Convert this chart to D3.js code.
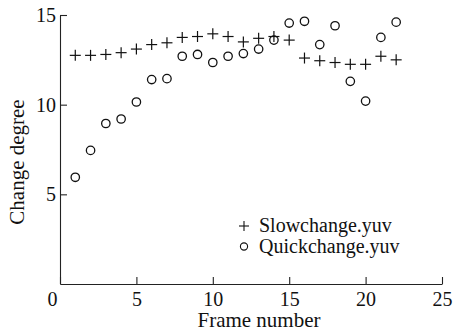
<!DOCTYPE html>
<html>
<head>
<meta charset="utf-8">
<script src="https://cdn.jsdelivr.net/npm/d3@7"></script>
<style>
  html, body { margin: 0; padding: 0; background: #fff; }
  svg { display: block; }
  .axis path, .axis line { stroke: #222; stroke-width: 1.1; }
</style>
</head>
<body>
<svg id="chart" width="454" height="334" font-family="Liberation Serif">
  <text x="259" y="327" font-size="21" fill="#111" text-anchor="middle" font-family="Liberation Serif">Frame number</text>
  <text transform="translate(24,162) rotate(-90)" font-size="21" fill="#111" text-anchor="middle" font-family="Liberation Serif">Change degree</text>
</svg>
<script>
const frames = [1, 2, 3, 4, 5, 6, 7, 8, 9, 10, 11, 12, 13, 14, 15, 16, 17, 18, 19, 20, 21, 22];
const slowValues = [12.75, 12.75, 12.8, 12.9, 13.1, 13.35, 13.45, 13.75, 13.8, 13.95, 13.8, 13.5,
  13.7, 13.8, 13.6, 12.6, 12.45, 12.35, 12.25, 12.25, 12.7, 12.5];
const quickValues = [5.95, 7.45, 8.95, 9.2, 10.15, 11.4, 11.45, 12.7, 12.8, 12.35, 12.7, 12.85,
  13.1, 13.6, 14.55, 14.65, 13.35, 14.4, 11.3, 10.2, 13.75, 14.6];
const xTicks = [0, 5, 10, 15, 20, 25];
const yTicks = [5, 10, 15];
const seriesNames = ['Slowchange.yuv', 'Quickchange.yuv'];

const serif = 'Liberation Serif';
const ink = '#111';
const svg = d3.select('#chart');

const x = d3.scaleLinear().domain([0, 25]).range([60, 442]);
const y = d3.scaleLinear().domain([0, 15]).range([284, 15]);

// axes, ticks point inward
const xAxis = svg
  .append('g')
  .attr('class', 'axis')
  .attr('transform', `translate(0,${y(0)})`)
  .call(d3.axisBottom(x).tickValues(xTicks).tickSizeInner(-7).tickSizeOuter(0).tickPadding(8));

// the 0 at the corner sits a bit left of its tick
xAxis.selectAll('.tick text').attr('dx', (d) => (d === 0 ? -8 : 0));

const yAxis = svg
  .append('g')
  .attr('class', 'axis')
  .attr('transform', `translate(${x(0)},0)`)
  .call(d3.axisLeft(y).tickValues(yTicks).tickSizeInner(-7).tickSizeOuter(0).tickPadding(4));

[xAxis, yAxis].forEach((g) => {
  g.attr('font-family', serif).attr('font-size', 20);
  g.selectAll('.tick text').attr('font-family', serif).attr('font-size', 20).attr('fill', ink);
});

const slow = frames.map((f, i) => ({ f, v: slowValues[i] }));
const quick = frames.map((f, i) => ({ f, v: quickValues[i] }));

function plus(sel, size) {
  sel.append('line').attr('x1', -size).attr('x2', size).attr('y1', 0).attr('y2', 0);
  sel.append('line').attr('x1', 0).attr('x2', 0).attr('y1', -size).attr('y2', size);
}

svg
  .append('g')
  .attr('stroke', ink)
  .attr('stroke-width', 1.2)
  .selectAll('g')
  .data(slow)
  .enter()
  .append('g')
  .attr('transform', (d) => `translate(${x(d.f)},${y(d.v)})`)
  .call(plus, 5.5);

svg
  .append('g')
  .attr('fill', 'none')
  .attr('stroke', ink)
  .attr('stroke-width', 1.3)
  .selectAll('circle')
  .data(quick)
  .enter()
  .append('circle')
  .attr('cx', (d) => x(d.f))
  .attr('cy', (d) => y(d.v))
  .attr('r', 4.2);

// legend
const items = svg
  .append('g')
  .selectAll('g')
  .data(seriesNames)
  .enter()
  .append('g')
  .attr('transform', (d, i) => `translate(244,${226 + i * 20.5})`);

items
  .filter((d, i) => i === 0)
  .append('g')
  .attr('stroke', ink)
  .attr('stroke-width', 1.1)
  .call(plus, 5);

items
  .filter((d, i) => i === 1)
  .append('circle')
  .attr('r', 3.6)
  .attr('fill', 'none')
  .attr('stroke', ink)
  .attr('stroke-width', 1.1);

items
  .append('text')
  .attr('font-family', serif)
  .attr('font-size', 20)
  .attr('fill', ink)
  .attr('x', 15)
  .attr('dy', '0.32em')
  .text((d) => d);
</script>
</body>
</html>
